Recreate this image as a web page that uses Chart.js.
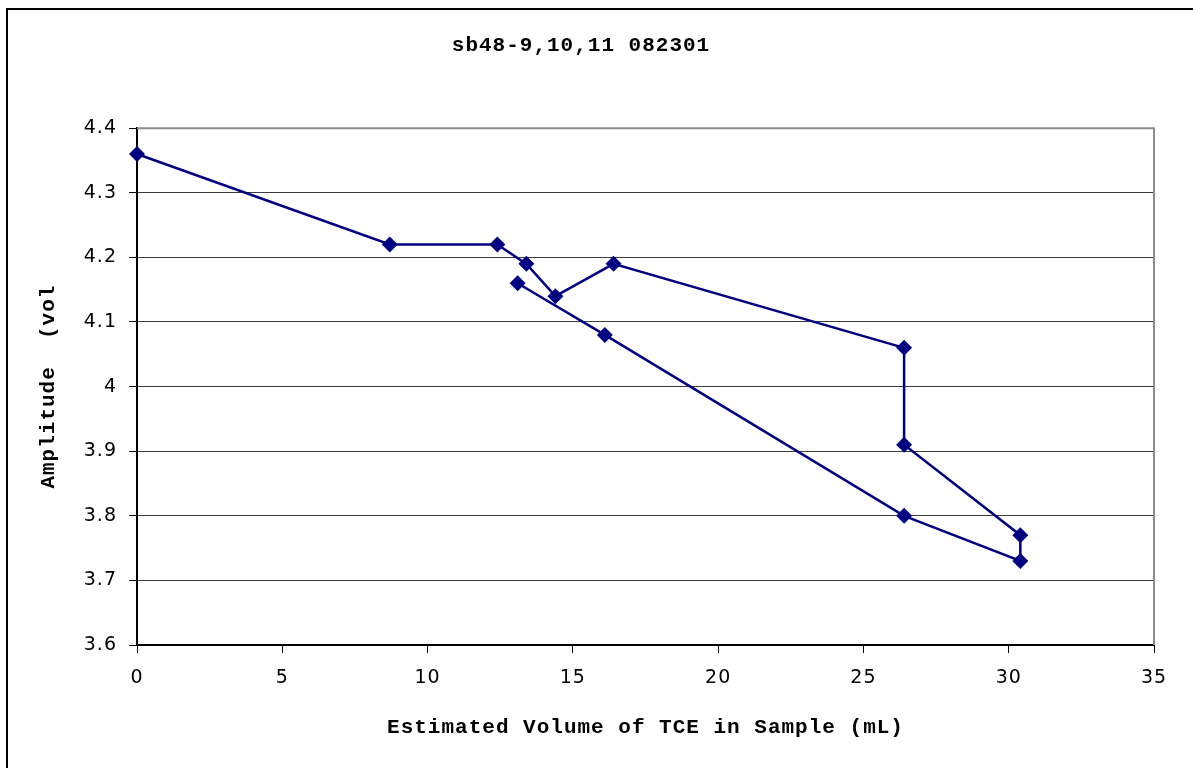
<!DOCTYPE html>
<html>
<head>
<meta charset="utf-8">
<script src="https://cdn.jsdelivr.net/npm/chart.js@4/dist/chart.umd.min.js"></script>
<style>
  html, body { margin: 0; padding: 0; background: #fff; }
  #wrap { width: 1193px; height: 768px; position: relative; }
</style>
</head>
<body>
<div id="wrap"><canvas id="chart"></canvas></div>
<script>
// data, in drawing order
const volumeML = [0, 8.7, 12.4, 13.4, 14.4, 16.4, 26.4, 26.4, 30.4, 30.4, 26.4, 16.1, 13.1];
const amplitude = [4.36, 4.22, 4.22, 4.19, 4.14, 4.19, 4.06, 3.91, 3.77, 3.73, 3.80, 4.08, 4.16];
const titleText = 'sb48-9,10,11 082301';
const xTitle = 'Estimated Volume of TCE in Sample (mL)';
const yTitle = 'Amplitude  (vol';

const points = volumeML.map((x, i) => ({ x: x, y: amplitude[i] }));

const monoBold = { family: "'Liberation Mono', monospace", size: 21, weight: 'bold' };
const tickFont = { family: "'DejaVu Sans', sans-serif", size: 19 };

// old spreadsheet look: spaced out glyphs, frame on top/left, grey plot edge
const framePlugin = {
  id: 'frame',
  beforeUpdate(chart) { chart.ctx.letterSpacing = '1px'; },
  beforeDraw(chart) {
    const ctx = chart.ctx;
    ctx.letterSpacing = '1px';
    ctx.save();
    ctx.strokeStyle = '#000';
    ctx.lineWidth = 2;
    ctx.beginPath();
    ctx.moveTo(7, 768);
    ctx.lineTo(7, 9);
    ctx.lineTo(1193, 9);
    ctx.stroke();
    ctx.restore();
  },
  beforeDatasetsDraw(chart) {
    const a = chart.chartArea;
    const ctx = chart.ctx;
    ctx.save();
    ctx.strokeStyle = '#8c8c8c';
    ctx.lineWidth = 2;
    ctx.beginPath();
    ctx.moveTo(a.left, a.top);
    ctx.lineTo(a.right, a.top);
    ctx.lineTo(a.right, a.bottom);
    ctx.stroke();
    ctx.restore();
  }
};

new Chart(document.getElementById('chart'), {
  type: 'scatter',
  data: {
    datasets: [{
      data: points,
      showLine: true,
      clip: false,
      borderColor: '#000080',
      backgroundColor: '#000080',
      borderWidth: 2.5,
      pointStyle: 'rectRot',
      pointRadius: 8,
      pointBorderWidth: 0,
      tension: 0
    }]
  },
  options: {
    responsive: true,
    maintainAspectRatio: false,
    animation: false,
    layout: { padding: { left: 8, right: 39, top: 0, bottom: 0 } },
    plugins: {
      legend: { display: false },
      tooltip: { enabled: false },
      title: {
        display: true,
        text: titleText,
        color: '#000',
        font: monoBold,
        padding: { top: 33, bottom: 70 }
      }
    },
    scales: {
      x: {
        type: 'linear',
        min: 0,
        max: 35,
        afterFit(s) { s.height = 123; },
        ticks: {
          stepSize: 5,
          color: '#000',
          padding: 14,
          maxRotation: 0,
          font: tickFont
        },
        grid: { display: true, drawOnChartArea: false, drawTicks: true, tickLength: 8, color: '#000' },
        border: { display: true, color: '#000', width: 2 },
        title: {
          display: true,
          text: xTitle,
          color: '#000',
          font: monoBold,
          padding: { top: 0, bottom: 28 }
        }
      },
      y: {
        min: 3.6,
        max: 4.4,
        afterFit(s) { s.width = 129; },
        ticks: {
          stepSize: 0.1,
          color: '#000',
          padding: 12,
          font: tickFont,
          callback: v => Number(v.toFixed(1)).toString()
        },
        grid: {
          color: ctx => (ctx.tick && Math.abs(ctx.tick.value - 4.4) < 1e-6) ? '#8c8c8c' : '#3c3c3c',
          lineWidth: 1,
          tickLength: 8,
          tickColor: '#000'
        },
        border: { display: true, color: '#000', width: 2 },
        title: {
          display: true,
          text: yTitle,
          color: '#000',
          font: monoBold,
          padding: { top: 28, bottom: 0 }
        }
      }
    }
  },
  plugins: [framePlugin]
});
</script>
</body>
</html>
